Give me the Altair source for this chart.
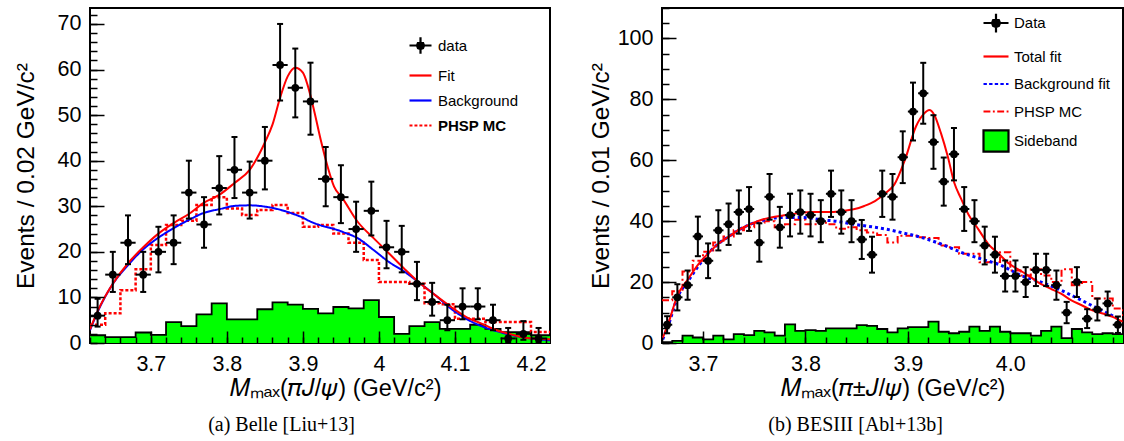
import altair as alt
import pandas as pd

FONT = "Liberation Sans"
SERIF = "Liberation Serif"

# ---------------- (a) Belle ----------------
belle_centers = [3.63, 3.65, 3.67, 3.69, 3.71, 3.73, 3.75, 3.77, 3.79, 3.81,
                 3.83, 3.85, 3.87, 3.89, 3.91, 3.93, 3.95, 3.97, 3.99, 4.01,
                 4.03, 4.05, 4.07, 4.09, 4.11, 4.13, 4.15, 4.17, 4.19, 4.21]
belle_counts = [6, 15, 22, 15, 20, 22, 33, 26, 34, 38, 33, 40, 61, 56, 53, 36, 32, 25, 29, 21,
                20, 13, 9, 5, 8, 8, 5, 1, 2, 1]
belle_err_up = [3.7, 5.0, 6.0, 5.0, 5.5, 6.0, 7.0, 6.0, 7.0, 7.2, 6.8, 7.4, 9.0, 8.6, 8.5, 7.0,
                7.0, 6.0, 6.4, 5.8, 5.7, 4.8, 4.2, 3.4, 4.0, 4.0, 3.4, 2.3, 2.8, 2.3]
belle_err_dn = [2.4, 3.8, 4.7, 3.8, 4.5, 4.7, 5.7, 5.1, 5.8, 6.2, 5.7, 6.3, 7.8, 6.5, 7.3, 6.0,
                5.7, 5.0, 5.4, 4.6, 4.5, 3.6, 3.0, 2.2, 2.8, 2.8, 2.2, 0.8, 1.3, 0.8]
belle_hist_centers = belle_centers + [4.23]
belle_phsp = [4.0, 6.5, 11.6, 16.2, 21.5, 25.9, 26.8, 30.3, 32.0, 29.5, 28.1, 29.2, 30.3, 28.5,
              25.5, 25.9, 24.0, 22.0, 18.2, 13.4, 13.4, 13.0, 8.7, 8.5, 5.3, 5.3, 4.6, 4.6, 4.6,
              2.4, 2.4]
belle_sideband = [1.7, 1.3, 1.3, 2.3, 1.8, 4.6, 3.7, 6.3, 8.7, 5.2, 5.2, 7.4, 8.9, 8.4, 7.5, 6.5,
                  7.9, 7.6, 9.4, 5.7, 2.0, 3.7, 4.6, 3.1, 3.1, 4.0, 3.1, 2.4, 2.4, 1.7, 1.7]
belle_fit_x = [3.620, 3.630, 3.650, 3.670, 3.690, 3.710, 3.730, 3.750, 3.770, 3.790, 3.810, 3.830,
               3.850, 3.860, 3.870, 3.880, 3.890, 3.900, 3.906, 3.915, 3.924, 3.933, 3.941, 3.952,
               3.972, 3.993, 4.013, 4.034, 4.054, 4.074, 4.095, 4.115, 4.135, 4.155, 4.176, 4.195,
               4.225]
belle_fit_y = [3.0, 7.0, 13.0, 17.5, 21.0, 24.0, 26.3, 28.3, 30.8, 32.5, 35.1, 38.0, 44.0, 47.9,
               53.8, 58.5, 60.4, 59.3, 56.7, 50.8, 44.2, 38.4, 34.3, 31.8, 26.6, 23.0, 19.7, 16.2,
               13.1, 10.5, 7.9, 5.7, 4.25, 2.8, 1.8, 1.1, 0.8]
belle_bkg_x = [3.620, 3.630, 3.649, 3.670, 3.689, 3.709, 3.730, 3.750, 3.769, 3.791, 3.811, 3.830,
               3.851, 3.871, 3.891, 3.900, 3.908, 3.952, 3.972, 3.993, 4.013, 4.034, 4.054, 4.074,
               4.095, 4.116, 4.135, 4.155, 4.176, 4.195, 4.225]
belle_bkg_y = [2.8, 6.8, 12.7, 17.1, 20.4, 23.0, 25.2, 27.0, 28.5, 29.4, 30.1, 30.2, 29.9, 29.2,
               28.1, 27.5, 26.8, 24.4, 23.0, 20.4, 17.8, 15.6, 13.1, 10.5, 7.5, 5.2, 3.7, 2.6, 1.7,
               1.1, 0.6]
belle_xticks = [3.7, 3.8, 3.9, 4.0, 4.1, 4.2]
belle_yticks = [0, 10, 20, 30, 40, 50, 60, 70]
belle_legend_names = ["data", "Fit", "Background", "PHSP MC"]

# ---------------- (b) BESIII ----------------
bes_centers = [3.665, 3.675, 3.685, 3.695, 3.705, 3.715, 3.725, 3.735, 3.745, 3.755, 3.765,
               3.775, 3.785, 3.795, 3.805, 3.815, 3.825, 3.835, 3.845, 3.855, 3.865, 3.875,
               3.885, 3.895, 3.905, 3.915, 3.925, 3.935, 3.945, 3.955, 3.965, 3.975, 3.985,
               3.995, 4.005, 4.015, 4.025, 4.035, 4.045, 4.055, 4.065, 4.075, 4.085, 4.095, 4.105]
bes_counts = [6, 15, 19, 35, 27, 37, 39, 43, 44, 33, 48, 38, 42, 43, 42, 40, 49, 43, 40, 34, 29,
              49, 48, 61, 76, 82, 66, 53, 62, 44, 40, 32, 29, 22, 22, 20, 24, 24, 19, 10, 20, 8,
              11, 13, 6]
bes_err = [2.8, 4.3, 4.8, 6.5, 5.7, 6.6, 6.8, 7.1, 7.2, 6.3, 7.5, 6.7, 7.0, 7.1, 7.0, 6.9, 7.6,
           7.1, 6.9, 6.4, 5.9, 7.6, 7.5, 8.5, 9.5, 10.0, 8.8, 7.9, 8.6, 7.2, 6.9, 6.2, 5.9, 5.1,
           5.1, 4.9, 5.3, 5.3, 4.8, 3.5, 4.9, 3.1, 3.6, 3.9, 2.7]
bes_hist_centers = bes_centers + [4.115]
bes_phsp = [14, 17, 23.5, 27, 30, 33, 35, 37, 38, 39.5, 40, 38, 39, 40.5, 39, 40, 39, 37.5, 38,
            37, 36.3, 35.5, 33, 35.2, 35.2, 34.7, 34.5, 32, 31.4, 29.3, 29.3, 26.5, 26.6, 29.8,
            23.8, 22.2, 24.2, 22.2, 20, 24.2, 19, 20, 14.6, 14.6, 11.3, 9.2]
bes_sideband = [0.3, 0.7, 2.4, 1.8, 1.2, 2.4, 1.2, 2.9, 2.6, 4.0, 3.5, 2.4, 6.1, 4.0, 4.2, 4.0,
                4.8, 4.8, 4.8, 5.9, 5.6, 4.6, 3.5, 4.8, 5.2, 5.2, 7.0, 3.7, 3.2, 3.7, 5.4, 4.0,
                5.4, 3.7, 3.2, 3.2, 2.4, 4.0, 5.4, 1.6, 4.6, 3.5, 2.9, 3.2, 2.9, 2.9]
bes_fit_x = [3.6607, 3.6661, 3.6753, 3.6857, 3.6958, 3.7062, 3.7166, 3.7264, 3.7364, 3.7462,
             3.7566, 3.7664, 3.7768, 3.7869, 3.7967, 3.8071, 3.8272, 3.8370, 3.8471, 3.8575,
             3.8679, 3.8786, 3.8867, 3.8972, 3.9079, 3.9160, 3.9209, 3.9258, 3.9323, 3.9389,
             3.9453, 3.9518, 3.9590, 3.9687, 3.9785, 3.9887, 3.9990, 4.0097, 4.0195, 4.0292,
             4.0397, 4.0495, 4.0592, 4.0697, 4.0794, 4.0902, 4.0999, 4.1096]
bes_fit_y = [1.6, 6.4, 15.7, 21.1, 26.0, 29.8, 33.0, 35.2, 37.4, 39.0, 40.4, 41.2, 41.8, 42.3,
             42.8, 43.0, 43.0, 43.4, 43.9, 45.0, 46.6, 49.3, 52.0, 60.2, 71.1, 75.4, 76.5, 74.9,
             68.9, 61.3, 52.6, 47.5, 42.3, 37.4, 32.5, 29.3, 26.0, 23.8, 21.7, 19.5, 17.8, 16.2,
             14.1, 12.4, 10.8, 9.7, 8.6, 7.0]
bes_bkg_x = [3.6607, 3.6661, 3.6753, 3.6857, 3.6958, 3.7062, 3.7166, 3.7264, 3.7364, 3.7462,
             3.7566, 3.7664, 3.7768, 3.7967, 3.8071, 3.8169, 3.8272, 3.8370, 3.8471, 3.8575,
             3.8679, 3.8786, 3.8933, 3.9128, 3.9323, 3.9519, 3.9714, 3.9909, 4.0104, 4.0300,
             4.0495, 4.0690, 4.0885, 4.1080]
bes_bkg_y = [1.2, 5.8, 15.1, 20.5, 25.4, 29.8, 33.0, 35.2, 37.4, 39.0, 40.1, 40.9, 41.2, 41.2,
             40.9, 40.4, 40.1, 39.6, 39.0, 38.5, 38.0, 37.4, 36.3, 34.7, 32.5, 29.8, 27.6, 25.5,
             22.2, 20.0, 17.3, 14.1, 10.8, 7.6]
bes_xticks = [3.7, 3.8, 3.9, 4.0]
bes_yticks = [0, 20, 40, 60, 80, 100]
bes_legend_names = ["Data", "Total fit", "Background fit", "PHSP MC", "Sideband"]

# legend glyphs (unit-square SVG paths)
DATA_GLYPH = ("M-1,0H1M0,-0.75V0.75M0.32,0L0.23,0.23L0,0.32L-0.23,0.23L-0.32,0"
              "L-0.23,-0.23L0,-0.32L0.23,-0.23Z")
LINE_GLYPH = "M-1,0H1"
DOT_GLYPH = "M-1,0H-0.73M-0.55,0H-0.28M-0.1,0H0.17M0.35,0H0.62M0.8,0H1"
DASHDOT_GLYPH = "M-1,0H-0.45M-0.25,0H-0.1M0.1,0H0.65M0.85,0H1"
BOX_GLYPH = "M-1,-0.85H1V0.85H-1Z"


def step_frame(centers, half, values):
    xs = [c - half for c in centers] + [centers[-1] + half]
    ys = list(values) + [values[-1]]
    return pd.DataFrame({"x": xs, "y": ys})


def panel(P):
    xs = alt.Scale(domain=P["xdom"], nice=False, zero=False)
    ys = alt.Scale(domain=P["ydom"], nice=False, zero=False)
    half = P["half"]
    pts = pd.DataFrame({
        "x": P["centers"], "y": P["counts"],
        "lo": [c - d for c, d in zip(P["counts"], P["err_dn"])],
        "hi": [c + u for c, u in zip(P["counts"], P["err_up"])],
        "xl": [c - half for c in P["centers"]],
        "xr": [c + half for c in P["centers"]],
    })
    side_step = step_frame(P["hist_centers"], half, P["side"])
    phsp_step = step_frame(P["hist_centers"], half, P["phsp"])
    fit = pd.DataFrame({"x": P["fit_x"], "y": P["fit_y"]})
    bkg = pd.DataFrame({"x": P["bkg_x"], "y": P["bkg_y"]})

    major_x = alt.Axis(values=P["xticks"], format=P["xfmt"], orient="bottom", offset=-12,
                       tickSize=12, tickWidth=1.5, tickColor="black", domain=False, grid=False,
                       labelFont=FONT, labelFontSize=21.5, labelColor="black", labelPadding=10,
                       labelFlush=False, labelOverlap=False, title=P["xtitle"], titleFont=FONT,
                       titleFontSize=23.5, titleFontWeight="normal", titleColor="black",
                       titlePadding=2, titleX=P["xtitle_x"], zindex=1)
    major_y = alt.Axis(values=P["yticks"], format="d", orient="left", offset=-14, tickSize=14,
                       tickWidth=1.5, tickColor="black", domain=False, grid=False,
                       labelFont=FONT, labelFontSize=21.5, labelColor="black", labelPadding=9,
                       labelFlush=False, labelOverlap=False, title=P["ytitle"], titleFont=FONT,
                       titleFontSize=24.5, titleFontWeight="normal", titleColor="black",
                       titlePadding=P["ytitle_pad"], zindex=1)
    minor_x = alt.Axis(values=P["xminor"], orient="bottom", offset=-6, tickSize=6, tickWidth=1.5,
                       tickColor="black", labels=False, domain=False, grid=False, title=None,
                       zindex=1)
    minor_y = alt.Axis(values=P["yminor"], orient="left", offset=-7, tickSize=7, tickWidth=1.5,
                       tickColor="black", labels=False, domain=False, grid=False, title=None,
                       zindex=1)

    def X(f, axis=None):
        return alt.X(f, type="quantitative", scale=xs, axis=axis)

    def Y(f, axis=None):
        return alt.Y(f, type="quantitative", scale=ys, axis=axis)

    green = alt.Chart(side_step).mark_area(
        interpolate="step-after", fill="#00ff00", fillOpacity=1, clip=True,
        line=alt.OverlayMarkDef(stroke="black", strokeWidth=1.8)).encode(
        x=X("x", minor_x), y=Y("y", minor_y))
    phsp = alt.Chart(phsp_step).mark_line(interpolate="step-after", color="#ff0000",
                                          strokeDash=P["phsp_dash"], strokeWidth=P["phsp_w"],
                                          clip=True).encode(x=X("x"), y=Y("y"))
    bkg_line = alt.Chart(bkg).mark_line(interpolate="monotone", color="#0000ff",
                                        strokeDash=P["bkg_dash"], strokeWidth=P["bkg_w"],
                                        clip=True).encode(x=X("x"), y=Y("y"))
    fit_line = alt.Chart(fit).mark_line(interpolate="monotone", color="#ff0000", strokeWidth=2,
                                        clip=True).encode(x=X("x"), y=Y("y"))
    vbar = alt.Chart(pts).mark_rule(color="black", strokeWidth=2).encode(
        x=X("x"), y=Y("lo"), y2="hi")
    cap_hi = alt.Chart(pts).mark_tick(orient="horizontal", size=6, thickness=2,
                                      color="black", opacity=1).encode(x=X("x"), y=Y("hi"))
    cap_lo = alt.Chart(pts).mark_tick(orient="horizontal", size=6, thickness=2,
                                      color="black", opacity=1).encode(x=X("x"), y=Y("lo"))
    hbar = alt.Chart(pts).mark_rule(color="black", strokeWidth=2, clip=True).encode(
        x=X("xl"), x2="xr", y=Y("y"))
    dots = alt.Chart(pts).mark_circle(size=60, color="black", opacity=1).encode(
        x=X("x", major_x), y=Y("y", major_y))

    leg = alt.Legend(orient="none", legendX=P["leg_x"], legendY=P["leg_y"], title=None,
                     labelFont=FONT, labelFontSize=15, labelColor="black",
                     labelFontWeight=alt.ExprRef(P["leg_weight"]),
                     symbolSize=P["leg_size"], symbolStrokeWidth=2.2,
                     rowPadding=P["leg_rowpad"], labelOffset=P["leg_off"], padding=0,
                     labelLimit=300)
    names = P["leg_names"]
    legend_layer = alt.Chart(alt.Data(values=[])).mark_point(filled=True, opacity=1).encode(
        fill=alt.Fill("series:N", scale=alt.Scale(domain=names, range=P["leg_fill"]), legend=leg),
        stroke=alt.Stroke("series:N", scale=alt.Scale(domain=names, range=P["leg_stroke"]),
                          legend=leg),
        shape=alt.Shape("series:N", scale=alt.Scale(domain=names, range=P["leg_shapes"]),
                        legend=leg),
    )

    return alt.layer(green, phsp, bkg_line, fit_line, vbar, cap_hi, cap_lo, hbar, dots,
                     legend_layer).resolve_axis(
        x="independent", y="independent").properties(
        width=P["w"], height=P["h"],
        title=alt.TitleParams(text=P["caption"], orient="bottom", font=SERIF, fontSize=20,
                              fontWeight="normal", color="black", offset=15, anchor="middle",
                              frame="bounds"))


belle = panel(dict(
    centers=belle_centers, half=0.01, counts=belle_counts, err_up=belle_err_up,
    err_dn=belle_err_dn, hist_centers=belle_hist_centers, phsp=belle_phsp, side=belle_sideband,
    fit_x=belle_fit_x, fit_y=belle_fit_y, bkg_x=belle_bkg_x, bkg_y=belle_bkg_y,
    xdom=[3.62, 4.225], ydom=[0, 73.5], xticks=belle_xticks, xfmt="~g",
    xminor=[round(3.62 + 0.02 * i, 2) for i in range(31)],
    yticks=belle_yticks, yminor=list(range(0, 74, 2)),
    xtitle="𝑀ₘₐₓ(𝜋𝐽/𝜓) (GeV/c²)", xtitle_x=245, ytitle="Events / 0.02 GeV/c²", ytitle_pad=19,
    phsp_dash=[3, 2], phsp_w=2.5, bkg_dash=[1, 0], bkg_w=2,
    leg_names=belle_legend_names, leg_fill=["black", "#ff0000", "#0000ff", "#ff0000"],
    leg_stroke=["black", "#ff0000", "#0000ff", "#ff0000"],
    leg_shapes=[DATA_GLYPH, LINE_GLYPH, LINE_GLYPH, DOT_GLYPH],
    leg_weight="datum.label === 'PHSP MC' ? 'bold' : 'normal'",
    leg_x=318, leg_y=25, leg_size=484, leg_rowpad=4, leg_off=5,
    caption="(a) Belle [Liu+13]", w=460, h=335))

bes = panel(dict(
    centers=bes_centers, half=0.005, counts=bes_counts, err_up=bes_err, err_dn=bes_err,
    hist_centers=bes_hist_centers, phsp=bes_phsp, side=bes_sideband,
    fit_x=bes_fit_x, fit_y=bes_fit_y, bkg_x=bes_bkg_x, bkg_y=bes_bkg_y,
    xdom=[3.66, 4.11], ydom=[0, 110], xticks=bes_xticks, xfmt=".1f",
    xminor=[round(3.66 + 0.02 * i, 2) for i in range(23)],
    yticks=bes_yticks, yminor=list(range(0, 111, 5)),
    xtitle="𝑀ₘₐₓ(𝜋±𝐽/𝜓) (GeV/c²)", xtitle_x=230.5, ytitle="Events / 0.01 GeV/c²", ytitle_pad=4,
    phsp_dash=[7, 3, 2, 3], phsp_w=2, bkg_dash=[3, 3], bkg_w=3,
    leg_names=bes_legend_names,
    leg_fill=["black", "#ff0000", "#0000ff", "#ff0000", "#00ff00"],
    leg_stroke=["black", "#ff0000", "#0000ff", "#ff0000", "black"],
    leg_shapes=[DATA_GLYPH, LINE_GLYPH, DOT_GLYPH, DASHDOT_GLYPH, BOX_GLYPH],
    leg_weight="'normal'",
    leg_x=320, leg_y=1, leg_size=625, leg_rowpad=5.5, leg_off=4,
    caption="(b) BESIII [Abl+13b]", w=461, h=335))

chart = alt.hconcat(belle, bes, spacing=112, bounds="flush").resolve_scale(
    fill="independent", stroke="independent", shape="independent"
).resolve_legend(
    fill="independent", stroke="independent", shape="independent"
).properties(
    padding={"left": 12, "top": 6, "right": 0, "bottom": 0},
    background="white",
).configure_view(stroke="black", strokeWidth=2)

chart.save("out.html", embed_options={"renderer": "svg", "actions": False})
